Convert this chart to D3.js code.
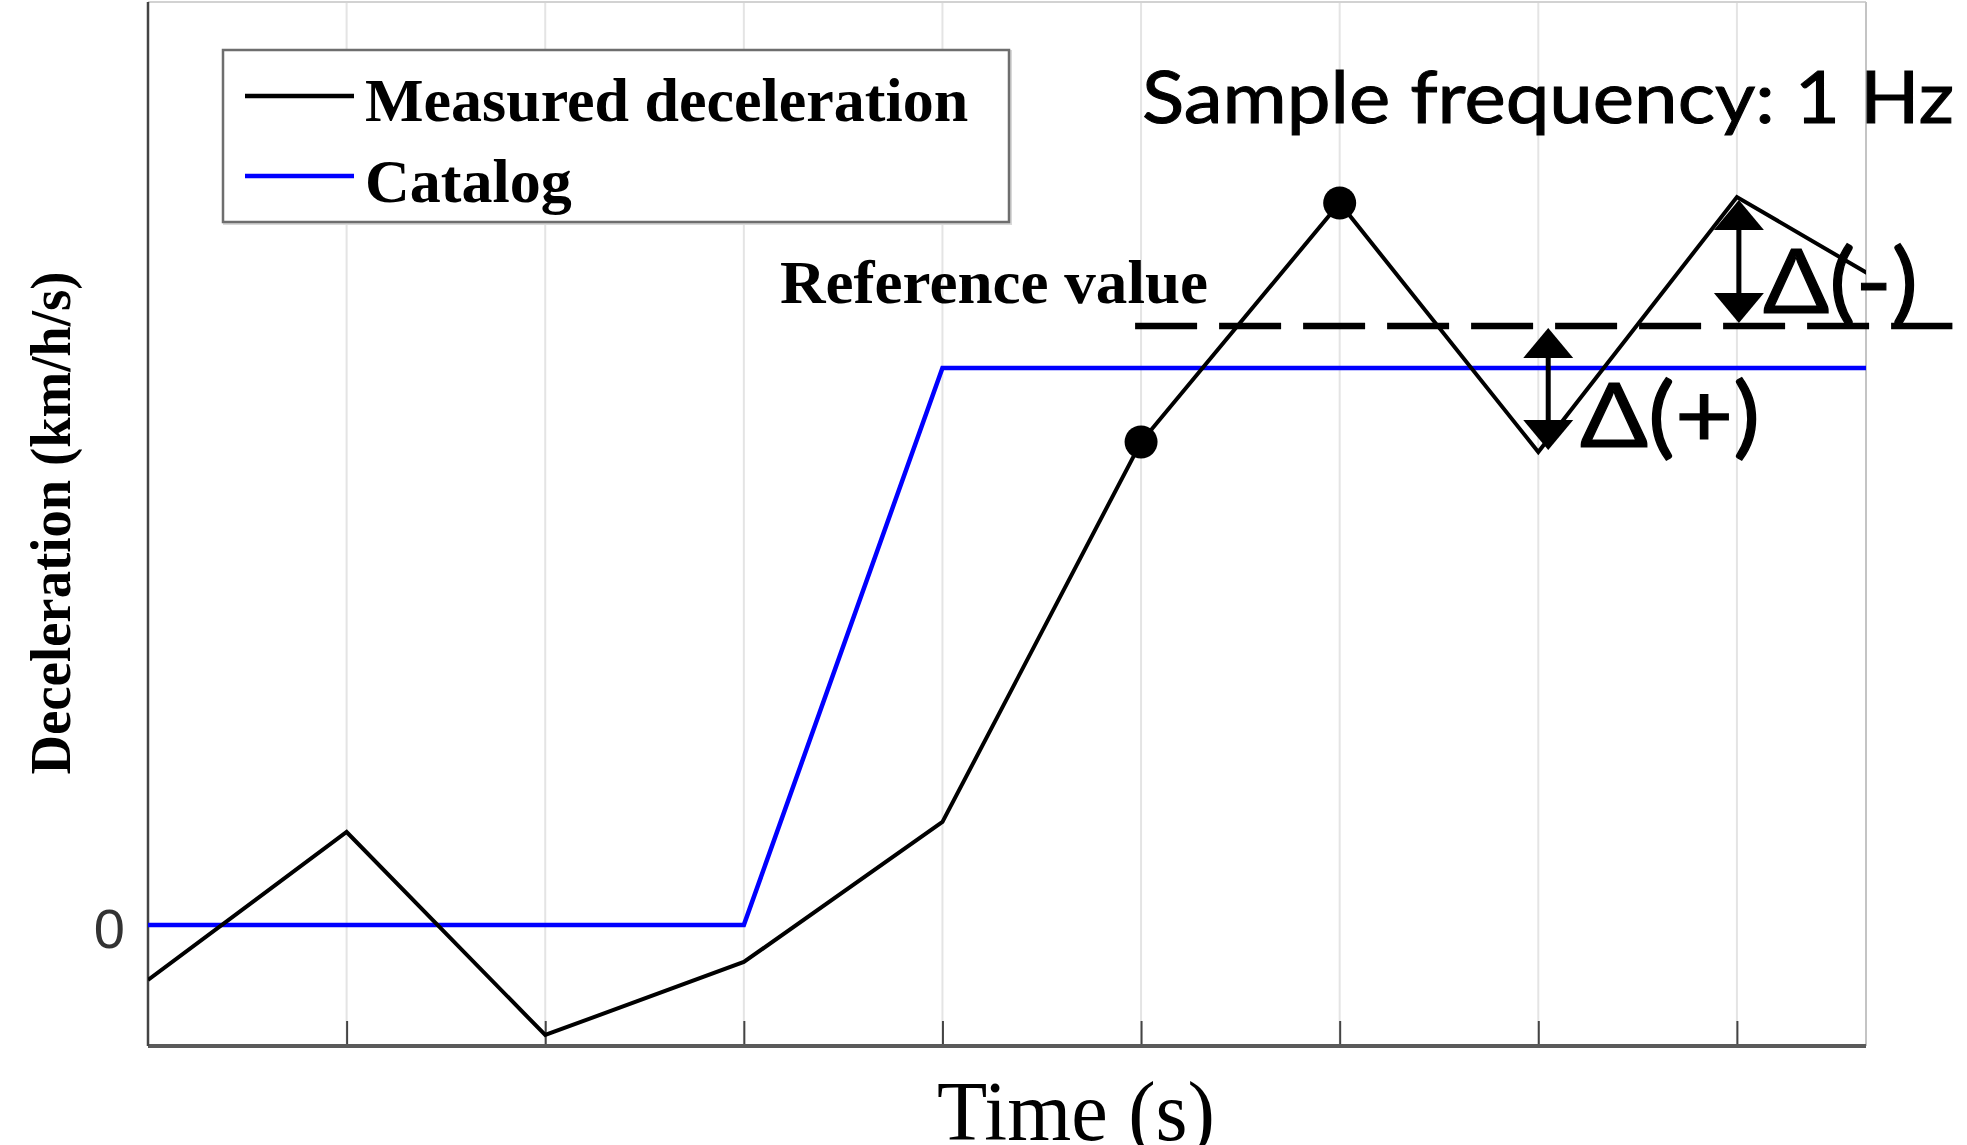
<!DOCTYPE html>
<html>
<head>
<meta charset="utf-8">
<script src="https://cdn.jsdelivr.net/npm/d3@7"></script>
<style>
  html, body { margin: 0; padding: 0; background: #fff; }
  svg { display: block; }
</style>
</head>
<body>
<svg id="chart" width="1967" height="1145"></svg>
<script>
// ---------------- data ----------------
const timeSteps = [0, 1, 2, 3, 4, 5, 6, 7, 8, 9];
const measuredDecel = [-0.55, 0.93, -1.10, -0.37, 1.03, 4.83, 7.22, 4.73, 7.28, 6.12];
const catalogDecel = [0, 0, 0, 0, 5.57, 5.57, 5.57, 5.57, 5.57, 5.57];
const markedIndices = [5, 6];
const referenceValue = 5.99;
const referenceSpan = [4.97, 9.085];
const xTickValues = [1, 2, 3, 4, 5, 6, 7, 8];
const yTickValues = [0];
const yTickLabels = ["0"];
const deltaArrows = [
  { t: 7.05, from: 5.97, to: 4.75, label: "\u0394(+)" },
  { t: 8.01, from: 7.25, to: 6.02, label: "\u0394(-)" }
];
const legendLabels = ["Measured deceleration", "Catalog"];
const legendColors = ["#000000", "#0000ff"];
const xDomain = [0, 8.65];
const yDomain = [-1.21, 9.22];

(function () {
// ---------------- layout ----------------
const pLeft = 148, pRight = 1866, pTop = 3, pBottom = 1046;
const svg = d3.select("#chart");
const x = d3.scaleLinear().domain(xDomain).range([pLeft, pRight]);
const y = d3.scaleLinear().domain(yDomain).range([pBottom, pTop]);

svg.append("defs").append("clipPath").attr("id", "plotClip")
  .append("rect").attr("x", pLeft).attr("y", pTop).attr("width", pRight - pLeft).attr("height", pBottom - pTop);

// grid lines
svg.append("g").selectAll("line").data(xTickValues).join("line")
  .attr("x1", d => x(d)).attr("x2", d => x(d))
  .attr("y1", pTop).attr("y2", pBottom)
  .attr("stroke", "#e4e4e4").attr("stroke-width", 2);

// box top / right
svg.append("line").attr("x1", pLeft).attr("x2", pRight).attr("y1", 2).attr("y2", 2)
  .attr("stroke", "#d2d2d2").attr("stroke-width", 2);
svg.append("line").attr("x1", pRight).attr("x2", pRight).attr("y1", 2).attr("y2", pBottom)
  .attr("stroke", "#c4c4c4").attr("stroke-width", 2);

// x axis (inward ticks, no labels)
const xAxis = svg.append("g").attr("transform", `translate(0,${pBottom})`)
  .call(d3.axisBottom(x).tickValues(xTickValues).tickSize(-25).tickFormat(""));
xAxis.select(".domain").remove();
xAxis.selectAll(".tick line").attr("stroke", "#444").attr("stroke-width", 2);
svg.append("line").attr("x1", pLeft).attr("x2", pRight).attr("y1", pBottom).attr("y2", pBottom)
  .attr("stroke", "#5a5a5a").attr("stroke-width", 4);

// y axis
const yAxis = svg.append("g").attr("transform", `translate(${pLeft},0)`)
  .call(d3.axisLeft(y).tickValues(yTickValues).tickSize(0).tickPadding(23)
    .tickFormat((d, i) => yTickLabels[i]));
yAxis.select(".domain").remove();
yAxis.selectAll(".tick text")
  .attr("font-family", "'Liberation Sans', Arial, sans-serif")
  .attr("font-size", 56).attr("fill", "#333").attr("dy", "0.41em");
svg.append("line").attr("x1", pLeft).attr("x2", pLeft).attr("y1", 2).attr("y2", pBottom)
  .attr("stroke", "#444").attr("stroke-width", 2.5);

// series
const line = d3.line().x((d, i) => x(timeSteps[i])).y(d => y(d));
const plot = svg.append("g").attr("clip-path", "url(#plotClip)");
plot.append("path").datum(catalogDecel).attr("d", line)
  .attr("fill", "none").attr("stroke", legendColors[1]).attr("stroke-width", 4.5);
plot.append("path").datum(measuredDecel).attr("d", line)
  .attr("fill", "none").attr("stroke", legendColors[0]).attr("stroke-width", 4)
  .attr("stroke-linejoin", "miter");

// reference dashed line
svg.append("line")
  .attr("x1", x(referenceSpan[0])).attr("x2", x(referenceSpan[1]))
  .attr("y1", y(referenceValue)).attr("y2", y(referenceValue))
  .attr("stroke", "#000").attr("stroke-width", 6.5).attr("stroke-dasharray", "62,22");

// marked dots
svg.append("g").selectAll("circle").data(markedIndices).join("circle")
  .attr("cx", i => x(timeSteps[i])).attr("cy", i => y(measuredDecel[i]))
  .attr("r", 16.5).attr("fill", "#000");

// delta arrows
const headW = 50, headH = 30;
const arrows = svg.append("g");
deltaArrows.forEach(a => {
  const ax = x(a.t), y1 = y(a.from), y2 = y(a.to);
  const dir = y2 > y1 ? 1 : -1;
  arrows.append("line").attr("x1", ax).attr("x2", ax)
    .attr("y1", y1 + dir * headH).attr("y2", y2 - dir * headH)
    .attr("stroke", "#000").attr("stroke-width", 5);
  arrows.append("path")
    .attr("d", `M${ax},${y1} L${ax - headW / 2},${y1 + dir * headH} L${ax + headW / 2},${y1 + dir * headH} Z`)
    .attr("fill", "#000");
  arrows.append("path")
    .attr("d", `M${ax},${y2} L${ax - headW / 2},${y2 - dir * headH} L${ax + headW / 2},${y2 - dir * headH} Z`)
    .attr("fill", "#000");
});

const sansFont = "Lato, 'Open Sans', 'Noto Sans', sans-serif";
const serifFont = "'Liberation Serif', 'Times New Roman', serif";

// delta labels
svg.append("text").text(deltaArrows[0].label)
  .attr("x", 1580).attr("y", 447).attr("font-family", sansFont).attr("font-size", 89)
  .attr("textLength", 180).attr("lengthAdjust", "spacingAndGlyphs").attr("fill", "#000")
  .attr("stroke", "#000").attr("stroke-width", 1.2);
svg.append("text").text(deltaArrows[1].label)
  .attr("x", 1763).attr("y", 313).attr("font-family", sansFont).attr("font-size", 89)
  .attr("textLength", 155).attr("lengthAdjust", "spacingAndGlyphs").attr("fill", "#000")
  .attr("stroke", "#000").attr("stroke-width", 1.2);

// Sample frequency
svg.append("text").text("Sample frequency: 1 Hz")
  .attr("x", 1142).attr("y", 123).attr("font-family", sansFont).attr("font-size", 71)
  .attr("textLength", 812).attr("lengthAdjust", "spacingAndGlyphs").attr("fill", "#000")
  .attr("stroke", "#000").attr("stroke-width", 1);

// Reference value
svg.append("text").text("Reference value")
  .attr("x", 780).attr("y", 303).attr("font-family", serifFont).attr("font-weight", "bold")
  .attr("font-size", 62).attr("textLength", 428).attr("lengthAdjust", "spacingAndGlyphs");

// legend
const lg = svg.append("g");
lg.append("rect").attr("x", 224).attr("y", 51).attr("width", 787).attr("height", 173)
  .attr("fill", "none").attr("stroke", "#d8d8d8").attr("stroke-width", 2);
lg.append("rect").attr("x", 223).attr("y", 50).attr("width", 786).attr("height", 172)
  .attr("fill", "#fff").attr("stroke", "#6e6e6e").attr("stroke-width", 2.5);
const legendY = [96, 176];
const legendBase = [121, 202];
legendLabels.forEach((lab, i) => {
  lg.append("line").attr("x1", 245).attr("x2", 354).attr("y1", legendY[i]).attr("y2", legendY[i])
    .attr("stroke", legendColors[i]).attr("stroke-width", 4.5);
  lg.append("text").text(lab).attr("x", 365).attr("y", legendBase[i])
    .attr("font-family", serifFont).attr("font-weight", "bold").attr("font-size", 62)
    .attr("fill", "#000");
});

// axis titles
svg.append("text").text("Time (s)")
  .attr("x", 937).attr("y", 1140).attr("font-family", serifFont).attr("font-size", 84)
  .attr("textLength", 278).attr("lengthAdjust", "spacingAndGlyphs").attr("fill", "#000");
svg.append("text").text("Deceleration (km/h/s)")
  .attr("transform", "translate(70,523) rotate(-90)")
  .attr("text-anchor", "middle").attr("font-family", serifFont).attr("font-weight", "bold")
  .attr("font-size", 56).attr("textLength", 503).attr("lengthAdjust", "spacingAndGlyphs")
  .attr("fill", "#000");
})();
</script>
</body>
</html>
